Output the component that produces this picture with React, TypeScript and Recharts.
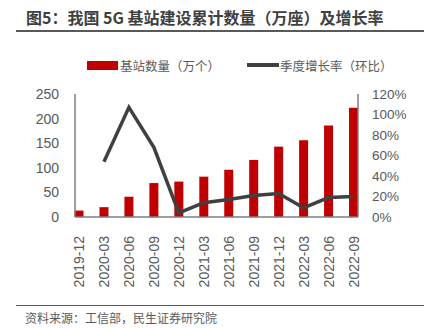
import React from "react";
import { ComposedChart, Bar, Line, XAxis, YAxis } from "recharts";

const quarters = [
  "2019-12", "2020-03", "2020-06", "2020-09", "2020-12", "2021-03",
  "2021-06", "2021-09", "2021-12", "2022-03", "2022-06", "2022-09",
];
const stations = [13, 20, 41, 69, 72, 82, 96, 116, 143, 156, 186, 222];
const growth = [null, 54, 107, 68, 4, 14, 17, 21, 23, 9, 19, 20];
const leftTicks = [0, 50, 100, 150, 200, 250];
const rightTicks = [0, 20, 40, 60, 80, 100, 120];

const data = quarters.map((q, i) => ({ q, stations: stations[i], growth: growth[i] }));

const numFont = "'Liberation Sans', Arial, sans-serif";
const cjkFont = "'Noto Sans CJK SC', sans-serif";

const XTick = (props: any) => {
  const { x, y, payload } = props;
  return (
    <text
      x={x}
      y={y + 11}
      transform={`rotate(-90, ${x}, ${y + 11})`}
      textAnchor="end"
      dominantBaseline="central"
      fill="#595959"
      fontSize={14}
      fontFamily={numFont}
    >
      {payload.value}
    </text>
  );
};

const App: React.FC = () => {
  return (
    <div
      style={{
        position: "absolute",
        top: 0,
        left: 0,
        width: 424,
        height: 328,
        background: "#fff",
        overflow: "hidden",
      }}
    >
      <div
        style={{
          position: "absolute",
          left: 26,
          top: 6,
          fontFamily: cjkFont,
          fontWeight: 700,
          fontSize: 16,
          color: "#404040",
          whiteSpace: "nowrap",
          lineHeight: "22px",
        }}
      >
        图5：我国 5G 基站建设累计数量（万座）及增长率
      </div>
      <div style={{ position: "absolute", left: 16, right: 0, top: 30, height: 1.5, background: "#595959" }} />

      <div
        style={{
          position: "absolute",
          top: 56,
          left: 87,
          display: "flex",
          alignItems: "center",
          fontFamily: cjkFont,
          fontSize: 12.5,
          color: "#595959",
          whiteSpace: "nowrap",
          height: 18,
        }}
      >
        <span style={{ display: "inline-block", width: 31, height: 9, background: "#C00000", marginRight: 2 }} />
        <span>基站数量（万个）</span>
        <span style={{ display: "inline-block", width: 32, height: 3.5, background: "#404040", marginLeft: 27, marginRight: 1 }} />
        <span>季度增长率（环比）</span>
      </div>

      <ComposedChart
        width={424}
        height={328}
        data={data}
        margin={{ top: 94, right: 26, left: 35, bottom: 41 }}
      >
        <XAxis
          dataKey="q"
          scale="point"
          padding={{ left: 4, right: 4.5 }}
          interval={0}
          height={70}
          tick={<XTick />}
          tickLine={false}
          axisLine={{ stroke: "#7f7f7f", strokeWidth: 1.5 }}
        />
        <YAxis
          yAxisId="left"
          domain={[0, 250]}
          ticks={leftTicks}
          interval={0}
          width={40}
          tickLine={false}
          tickMargin={10}
          axisLine={{ stroke: "#7f7f7f", strokeWidth: 1.5 }}
          tick={{ fill: "#595959", fontSize: 14, fontFamily: numFont }}
        />
        <YAxis
          yAxisId="right"
          orientation="right"
          domain={[0, 120]}
          ticks={rightTicks}
          interval={0}
          width={40}
          tickLine={false}
          tickMargin={8}
          axisLine={{ stroke: "#7f7f7f", strokeWidth: 1.5 }}
          tick={{ fill: "#595959", fontSize: 13.5, fontFamily: numFont }}
          tickFormatter={(v: number) => `${v}%`}
        />
        <Bar
          yAxisId="left"
          dataKey="stations"
          fill="#C00000"
          barSize={9}
          isAnimationActive={false}
        />
        <Line
          yAxisId="right"
          dataKey="growth"
          stroke="#404040"
          strokeWidth={3.5}
          dot={false}
          type="linear"
          isAnimationActive={false}
        />
      </ComposedChart>

      <div style={{ position: "absolute", left: 16, right: 0, top: 304.5, height: 1.5, background: "#595959" }} />
      <div
        style={{
          position: "absolute",
          left: 25,
          top: 309,
          fontFamily: cjkFont,
          fontSize: 12,
          color: "#595959",
          whiteSpace: "nowrap",
          lineHeight: "18px",
        }}
      >
        资料来源：工信部，民生证券研究院
      </div>
    </div>
  );
};

export default App;
